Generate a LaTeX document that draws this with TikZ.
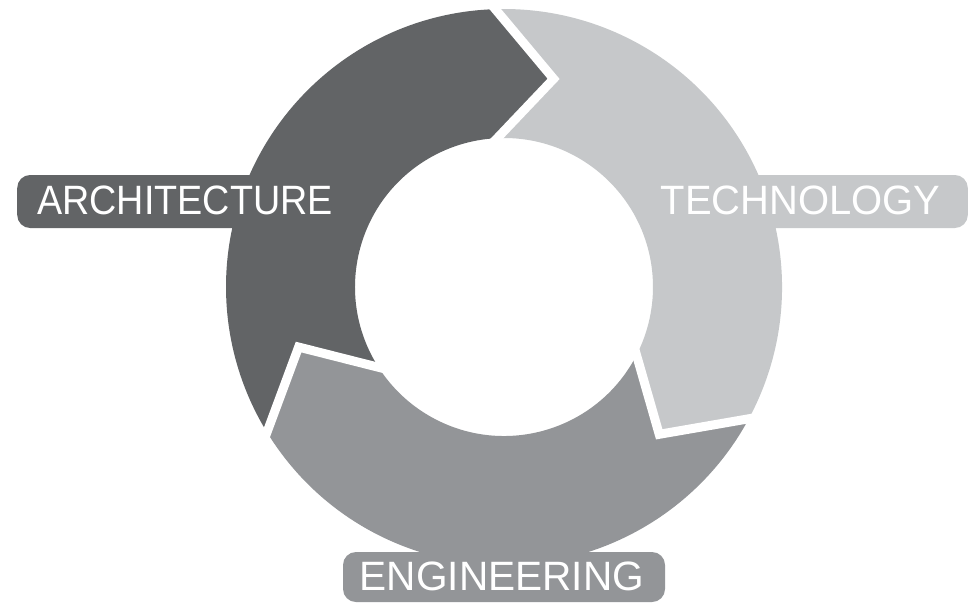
\documentclass[tikz,border=0pt]{standalone}
\usepackage{fontspec}
\setmainfont{Liberation Sans}
\usetikzlibrary{calc}
\definecolor{archgray}{HTML}{626466}
\definecolor{enggray}{HTML}{939598}
\definecolor{techgray}{HTML}{C6C8CA}

\begin{document}
\begin{tikzpicture}[x=1pt,y=-1pt,
  labelbox/.style={rectangle, rounded corners=13pt, minimum height=53pt, inner sep=0pt, draw=none},
  labeltext/.style={text=white, inner sep=0pt, font=\fontsize{41}{41}\selectfont},
  gap/.style={white, line width=9pt, line join=miter}]
\useasboundingbox (0,0) rectangle (974,605);
\fill[white] (0,0) rectangle (974,605);

% the cycle ring: three chevron segments, math angles inside this scope
\begin{scope}[shift={(504,287)}, yscale=-1]
  % boundary A (top), B (lower right), C (lower left): outer end, inner end, tip
  \coordinate (Ao) at (91.8:278);   \coordinate (Ai) at (92.6:149);   \coordinate (At) at (76.6:214);
  \coordinate (Bo) at (-28.3:278);  \coordinate (Bi) at (-27.2:149);  \coordinate (Bt) at (-43.5:214);
  \coordinate (Co) at (-148.5:278); \coordinate (Ci) at (-147.4:149); \coordinate (Ct) at (-163.7:214);

  % architecture segment
  \fill[archgray] (Ao) arc[start angle=91.8, end angle=211.5, radius=278]
    -- (Ct) -- (Ci) arc[start angle=212.6, end angle=92.6, radius=149]
    -- (At) -- cycle;
  % technology segment
  \fill[techgray] (Bo) arc[start angle=-28.3, end angle=91.8, radius=278]
    -- (At) -- (Ai) arc[start angle=92.6, end angle=-27.2, radius=149]
    -- (Bt) -- cycle;
  % engineering segment
  \fill[enggray] (Co) arc[start angle=-148.5, end angle=-28.3, radius=278]
    -- (Bt) -- (Bi) arc[start angle=-27.2, end angle=-147.4, radius=149]
    -- (Ct) -- cycle;

  % white gaps between the segments
  \draw[gap] ($(At)!1.2!(Ao)$) -- (At) -- ($(At)!1.2!(Ai)$);
  \draw[gap] ($(Bt)!1.2!(Bo)$) -- (Bt) -- ($(Bt)!1.2!(Bi)$);
  \draw[gap] ($(Ct)!1.2!(Co)$) -- (Ct) -- ($(Ct)!1.2!(Ci)$);
\end{scope}

% labels
\node[labelbox, fill=archgray, minimum width=328pt, anchor=west] (archbox) at (17,201.5) {};
\node[labeltext] (archtext) at (185,200) {\scalebox{0.92}[1]{ARCHITECTURE}};

\node[labelbox, fill=techgray, minimum width=318pt, anchor=east] (techbox) at (968,201.5) {};
\node[labeltext] (techtext) at (800.5,200) {\scalebox{0.975}[1]{TECHNOLOGY}};

\node[labelbox, fill=enggray, minimum width=322pt, minimum height=50pt] (engbox) at (504,577) {};
\node[labeltext] (engtext) at (502,576) {\scalebox{0.99}[1]{ENGINEERING}};
\end{tikzpicture}
\end{document}
